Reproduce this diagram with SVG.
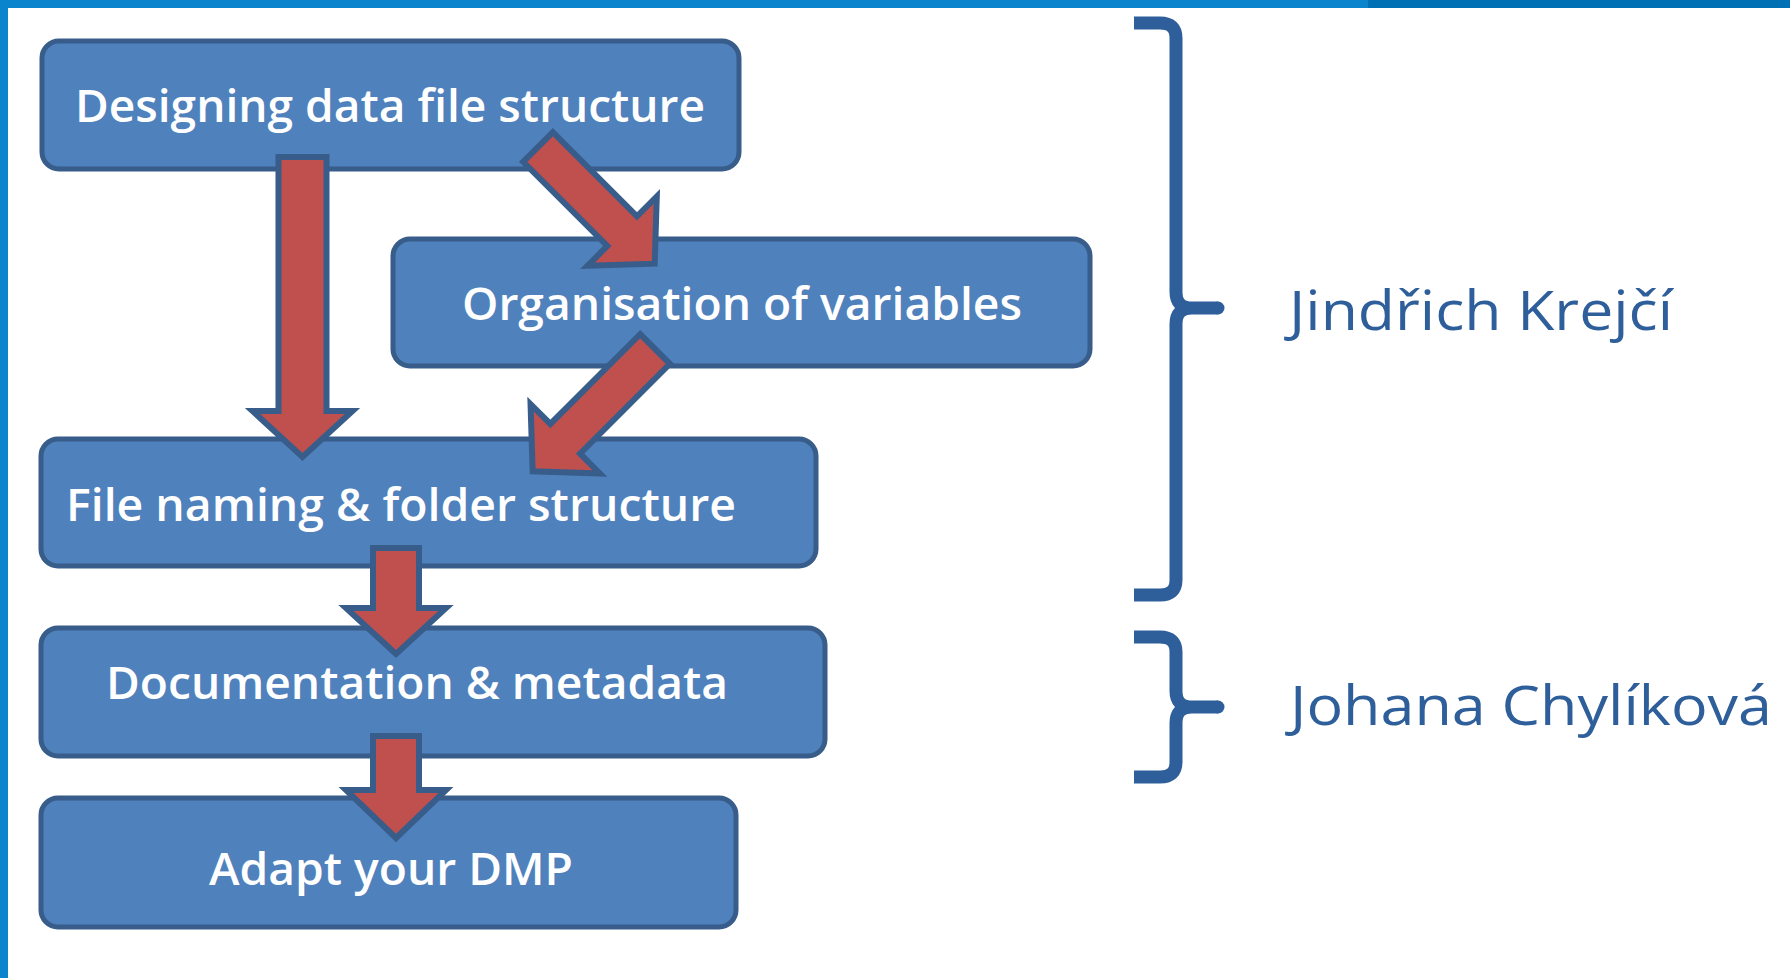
<svg xmlns="http://www.w3.org/2000/svg" width="1790" height="978" viewBox="0 0 1790 978">
  <style>
    .box { fill: #4f81bd; stroke: #385d8a; stroke-width: 5; }
    .lbl { font-family: "Open Sans", "Liberation Sans", sans-serif; font-size: 46px; font-weight: 600; fill: #ffffff; }
    .arrow { fill: #c0504d; stroke: #385d8a; stroke-width: 6; stroke-linejoin: miter; }
    .brace { fill: none; stroke: #2f5f9b; stroke-width: 13; stroke-linecap: butt; stroke-linejoin: round; }
    .name { font-family: "Open Sans", "Liberation Sans", sans-serif; font-size: 55px; font-weight: 500; fill: #2f5f9b; }
  </style>
  <rect x="0" y="0" width="1790" height="978" fill="#ffffff"/>
  <rect x="0" y="0" width="1368" height="8" fill="#0a84cc"/>
  <rect x="1368" y="0" width="422" height="8" fill="#0070b5"/>
  <rect x="0" y="0" width="8" height="978" fill="#0a84cc"/>

  <g id="node-designing">
    <rect class="box" x="42" y="41" width="697" height="128" rx="17"/>
    <text class="lbl" x="75" y="122" textLength="630" lengthAdjust="spacingAndGlyphs">Designing data file structure</text>
  </g>
  <g id="node-organisation">
    <rect class="box" x="393" y="239" width="697" height="127" rx="17"/>
    <text class="lbl" x="462" y="320" textLength="560" lengthAdjust="spacingAndGlyphs">Organisation of variables</text>
  </g>
  <g id="node-filenaming">
    <rect class="box" x="41" y="439" width="775" height="127" rx="17"/>
    <text class="lbl" x="66" y="521" textLength="670" lengthAdjust="spacingAndGlyphs">File naming &amp; folder structure</text>
  </g>
  <g id="node-documentation">
    <rect class="box" x="41" y="628" width="784" height="128" rx="17"/>
    <text class="lbl" x="106" y="699" textLength="622" lengthAdjust="spacingAndGlyphs">Documentation &amp; metadata</text>
  </g>
  <g id="node-adapt">
    <rect class="box" x="41" y="798" width="695" height="129" rx="17"/>
    <text class="lbl" x="209" y="885" textLength="364" lengthAdjust="spacingAndGlyphs">Adapt your DMP</text>
  </g>

  <g id="connectors">
    <polygon class="arrow" points="278.5,157 326.5,157 326.5,411 352.5,411 302.5,457 252.5,411 278.5,411"/>
    <polygon class="arrow" transform="translate(538,147) rotate(-45)" points="-21,0 21,0 21,119 49,119 0,165 -49,119 -21,119"/>
    <polygon class="arrow" transform="translate(655,349) rotate(45)" points="-21,0 21,0 21,127 49,127 0,173 -49,127 -21,127"/>
    <polygon class="arrow" points="373,548 419,548 419,608 446,608 396,654 346,608 373,608"/>
    <polygon class="arrow" points="373,736 419,736 419,790 446,790 396,838 346,790 373,790"/>
  </g>

  <g id="group-krejci">
    <path class="brace" d="M1134,23 L1160,23 Q1176,23 1176,38 L1176,292 Q1176,308 1192,308 L1218,308 M1192,308 Q1176,308 1176,324 L1176,580 Q1176,595 1160,595 L1134,595"/>
    <circle cx="1218" cy="308" r="6.5" fill="#2f5f9b"/>
    <text class="name" x="1289" y="330" textLength="384" lengthAdjust="spacingAndGlyphs">Jindřich Krejčí</text>
  </g>
  <g id="group-chylikova">
    <path class="brace" d="M1134,637 L1160,637 Q1176,637 1176,652 L1176,691 Q1176,707 1192,707 L1218,707 M1192,707 Q1176,707 1176,723 L1176,762 Q1176,777 1160,777 L1134,777"/>
    <circle cx="1218" cy="707" r="6.5" fill="#2f5f9b"/>
    <text class="name" x="1290" y="725" textLength="482" lengthAdjust="spacingAndGlyphs">Johana Chylíková</text>
  </g>
</svg>
